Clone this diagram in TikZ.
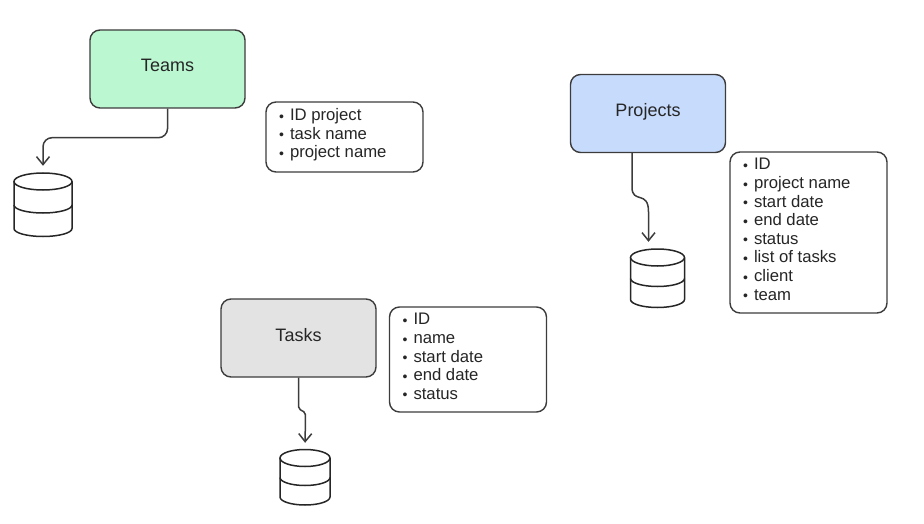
\documentclass[tikz,border=0pt]{standalone}
\usepackage{fontspec}
\setmainfont{Liberation Sans}
\usepackage{tikz}
\usetikzlibrary{arrows.meta,positioning,calc}
\definecolor{ink}{RGB}{60,60,60}
\definecolor{teamfill}{RGB}{187,247,208}
\definecolor{projfill}{RGB}{199,219,252}
\definecolor{taskfill}{RGB}{227,227,227}
\newcommand{\itm}{\makebox[12pt][l]{\fontsize{14}{14}\selectfont\raisebox{-0.5pt}{\kern1pt\textbullet}}}
\newcommand{\lst}[2]{\parbox[c][#1pt][t]{133pt}{\fontsize{16.7}{18.6}\selectfont\vspace*{6.5pt}#2}}
\tikzset{
  flow/.style={draw=ink,line width=1.5pt,-{Straight Barb[length=8pt,width=13pt,line width=1.5pt]},shorten >=7pt},
  blk/.style={draw=ink,line width=1.4pt,rounded corners=10pt,font=\fontsize{18}{20}\selectfont,
    inner sep=0pt,minimum width=155pt,minimum height=78pt,text=black!85},
  info/.style={draw=ink,line width=1.4pt,rounded corners=10pt,fill=white,align=left,inner xsep=12pt,inner ysep=0pt,text=black!85},
  dbase/.style={inner sep=0pt},
  dbline/.style={draw=black!85,line width=1.5pt},
}
\begin{document}
\begin{tikzpicture}[x=1pt,y=1pt]
\useasboundingbox (0,0) rectangle (924,-524);
% entity boxes
\node[blk,fill=teamfill] (teams) at (167.5,-69) {\raisebox{7pt}{Teams}};
\node[blk,fill=projfill] (projects) at (648,-113.5) {\raisebox{7pt}{Projects}};
\node[blk,fill=taskfill] (tasks) at (298.5,-338) {\raisebox{7pt}{Tasks}};
% field lists
\node[info] (teamlist) at (344.5,-137) {\lst{70}{\itm ID project\\\itm task name\\\itm project name}};
\node[info] (projlist) at (808.5,-232.5) {\lst{161}{\itm ID\\\itm project name\\\itm start date\\\itm end date\\\itm status\\\itm list of tasks\\\itm client\\\itm team}};
\node[info] (tasklist) at (468,-359.5) {\lst{105}{\itm ID\\\itm name\\\itm start date\\\itm end date\\\itm status}};
% databases
\node[dbase,minimum width=58pt,minimum height=64pt] (teamdb) at (43,-205) {};
\node[dbase,minimum width=54pt,minimum height=59pt] (projdb) at (657.5,-278.5) {};
\node[dbase,minimum width=50pt,minimum height=55pt] (taskdb) at (305,-477.5) {};
\foreach \d/\rx/\h in {teamdb/29/23.5,projdb/27/21,taskdb/25/19.5} {
  \draw[dbline] ($(\d.center)+(0,\h)$) ellipse ({\rx} and 8.5);
  \draw[dbline] ($(\d.center)+(-\rx,\h)$) -- ($(\d.center)+(-\rx,-\h)$) arc (180:360:{\rx} and 8) -- ($(\d.center)+(\rx,\h)$);
  \draw[dbline] ($(\d.center)+(-\rx,0)$) arc (180:360:{\rx} and 8);
}
% connectors
\draw[flow,rounded corners=9pt] (teams.south) -- ++(0,-29) -| (teamdb.north);
\draw[flow] ($(projects.south)+(-16,0)$) -- ++(0,-34) .. controls +(0,-17) and +(0,22) .. ($(projdb.north)+(-9,37)$) -- ($(projdb.north)+(-9,0)$);
\draw[flow,rounded corners=2pt] (tasks.south) -- ++(0,-31) -- ++(7,-4) -- (taskdb.north);
\end{tikzpicture}
\end{document}
